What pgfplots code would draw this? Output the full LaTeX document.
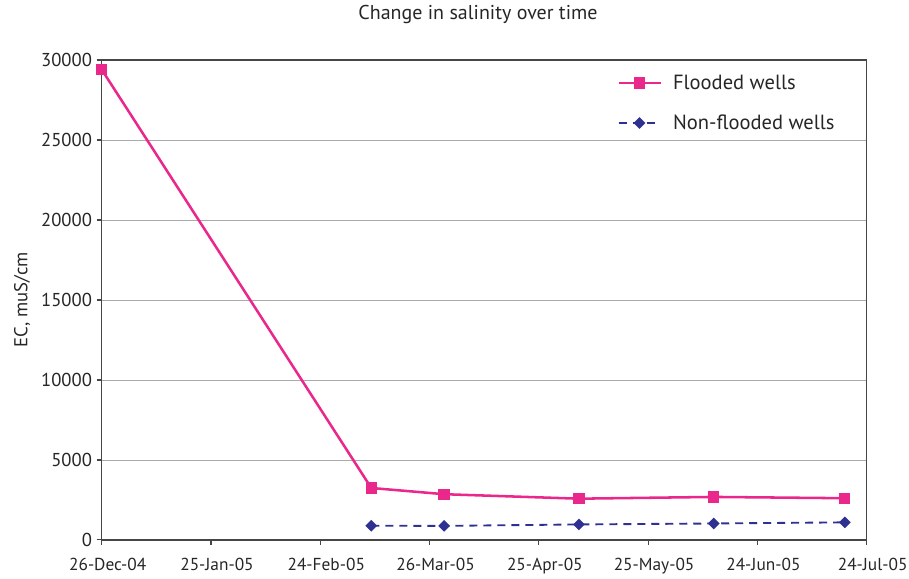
\documentclass[border=0pt]{standalone}
\usepackage{fontspec}
\setmainfont{PT Sans}
\usepackage{pgfplots}
\pgfplotsset{compat=1.18}

\definecolor{flood}{RGB}{234,40,140}
\definecolor{nonflood}{RGB}{46,49,146}
\definecolor{gridgray}{RGB}{170,170,170}
\definecolor{axisgray}{RGB}{70,70,70}

\begin{document}
\begin{tikzpicture}
% fix the page to the reference's frame (1px = 0.75pt)
\path[use as bounding box] (-76.3pt,-29.25pt) rectangle (605.5pt,405pt);
\begin{axis}[
    at={(0,0)}, anchor=south west,
    scale only axis,
    width=573.75pt, height=360pt,
    xmin=0, xmax=210,
    ymin=0, ymax=30000,
    xtick={0,30,...,210},
    xticklabels={26-Dec-04,25-Jan-05,24-Feb-05,26-Mar-05,25-Apr-05,25-May-05,24-Jun-05,24-Jul-05},
    ytick={0,5000,...,30000},
    scaled y ticks=false,
    /pgf/number format/.cd, 1000 sep={}, assume math mode=true, /pgfplots/.cd,
    tick pos=left,
    tick align=outside,
    major tick length=3.75pt,
    tick style={axisgray, line width=0.8pt},
    axis line style={axisgray, line width=0.9pt},
    ymajorgrids,
    grid style={gridgray, line width=0.6pt},
    xticklabel style={font=\fontsize{13}{15}\selectfont, text=black!85,
        xshift=4.5pt, yshift=-6pt},
    yticklabel style={font=\fontsize{14}{16}\selectfont, text=black!85},
    ylabel={EC, muS/cm},
    ylabel style={at={(axis description cs:-0.104,0.5)}, anchor=center,
        font=\fontsize{14}{16}\selectfont, text=black!85},
    legend style={at={(axis description cs:0.6736,0.975)}, anchor=north west,
        draw=none, fill=none, inner sep=0pt,
        font=\fontsize{15.4}{18}\selectfont, text=black!85,
        row sep=13.5pt,
        /tikz/every odd column/.append style={column sep=6.5pt}},
    legend cell align=left,
    legend image code/.code={%
        \draw[mark repeat=2, mark phase=2]
        plot coordinates {(0pt,0pt) (15.75pt,0pt) (31.5pt,0pt)};},
]
\addplot[color=flood, line width=1.9pt, mark=square*, mark size=3.3pt,
    mark options={solid}] coordinates {
    (0,29400) (74,3250) (94,2860) (131,2580) (168,2690) (204,2610)
};
\addlegendentry{Flooded wells}
% square diamonds: a square mark turned by 45 degrees
\addplot[color=nonflood, line width=1.4pt, dash pattern=on 6pt off 4.5pt,
    mark=square*, mark size=2.4pt, mark options={solid, rotate=45}] coordinates {
    (74,890) (94,880) (131,970) (168,1030) (204,1100)
};
\addlegendentry{Non-flooded wells}
\end{axis}
% chart title, centred over the plot area
\node[font=\fontsize{15}{18}\selectfont, text=black!85] at (282.2pt,393.75pt)
    {Change in salinity over time};
\end{tikzpicture}
\end{document}
